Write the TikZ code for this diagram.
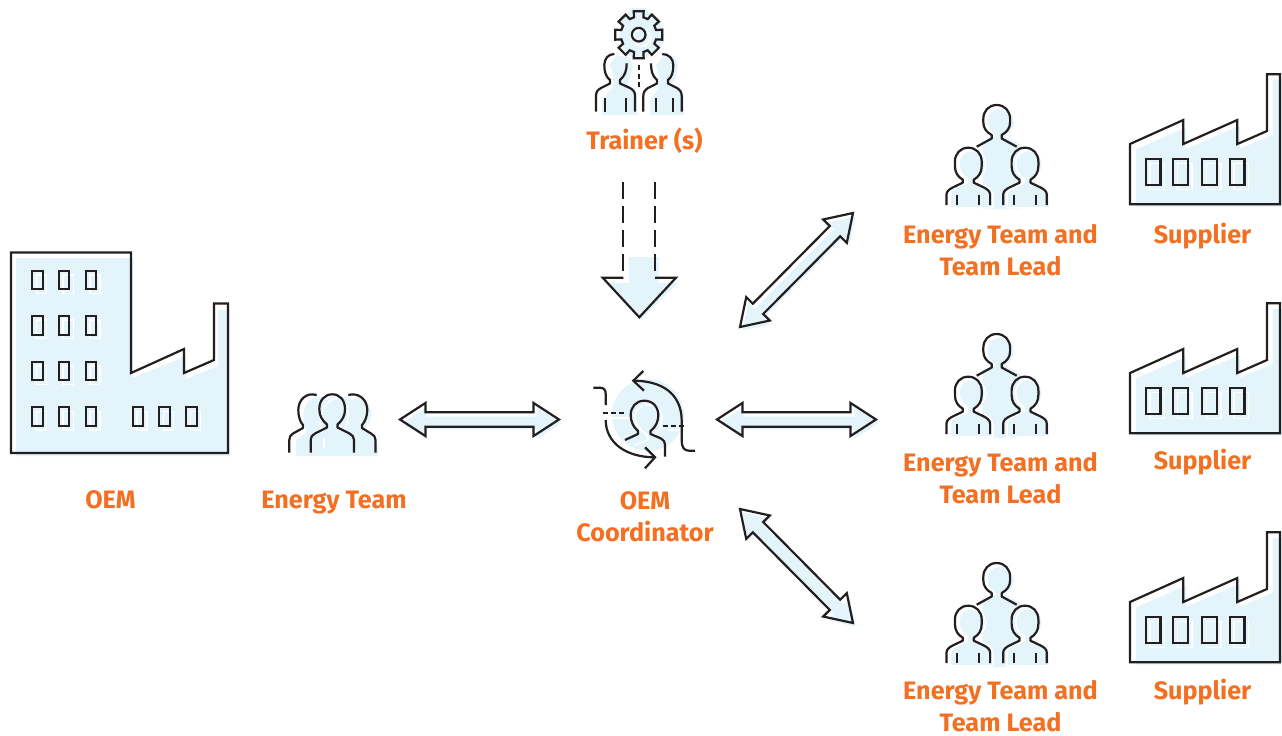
\documentclass[tikz,border=0pt]{standalone}
\usepackage{fontspec}
\setmainfont{Fira Sans}
\usetikzlibrary{shapes.arrows,calc}
\definecolor{ink}{HTML}{231F20}
\definecolor{tint}{HTML}{E3F4FA}
\definecolor{accent}{HTML}{F36F21}
\tikzset{
  x=1pt,y=-1pt,
  outl/.style={draw=ink,line width=2.2pt,line join=miter},
  iconl/.style={draw=ink,line width=2.2pt,line cap=butt,line join=round},
  tintf/.style={fill=tint,draw=none},
  halo/.style={draw=white,line width=1.6pt},
  lab/.style={font=\fontsize{25.2}{32}\selectfont\bfseries,text=accent,align=center,inner sep=0pt},
  blockarr/.style={shape=double arrow,inner xsep=0pt,inner ysep=6.2pt,outer sep=0pt,minimum width=31pt,
     double arrow head extend=9.3pt,double arrow tip angle=66},
  pics/winrect/.style args={#1/#2}{code={
     \draw[halo] (4,4) rectangle ++(#1,#2);
     \draw[outl] (0,0) rectangle ++(#1,#2);}},
  pics/persontint/.style={code={
     \path[tintf,draw=white,line width=1.6pt] (-18,58) -- (-18,47) .. controls (-18,43) and (-14,41) .. (-10,39) -- (-1,35) -- (-1,31)
       .. controls (-7,27) and (-9.3,22) .. (-9.3,16) .. controls (-9.3,7) and (-3,3) .. (4,3)
       .. controls (11,3) and (17.3,8) .. (17.3,17) .. controls (17.3,23) and (14,28) .. (8.5,31) -- (8.5,35) -- (18,39)
       .. controls (22,41) and (24.6,44) .. (24.6,48) -- (24.6,60) -- (-18,60) -- cycle;}},
  pics/personline/.style={code={
     \draw[iconl] (-21.8,57.5) -- (-21.8,47) .. controls (-21.8,43.5) and (-19,41.5) .. (-15,39.5) -- (-5.5,35) -- (-5.5,32)
       .. controls (-10.5,29) and (-13.4,25) .. (-13.4,18) -- (-13.4,14) .. controls (-13.4,6) and (-8,0) .. (0,0)
       .. controls (8,0) and (13.4,6) .. (13.4,14) -- (13.4,18) .. controls (13.4,25) and (10.5,29) .. (5.5,32) -- (5.5,35) -- (15,39.5)
       .. controls (19,41.5) and (21.8,43.5) .. (21.8,47) -- (21.8,57.5);
     \draw[iconl] (-11,47.5) -- (-11,57.5) (11,47.5) -- (11,57.5);}},
  pics/teamicon/.style={code={
     \path[tintf] (-14,48) -- (-14,36) -- (-1,32) -- (-1,30) .. controls (-7,26) and (-9,21) .. (-9,17) .. controls (-9,8) and (-4,4) .. (4,4)
        .. controls (11,4) and (17,9) .. (17,18) .. controls (17,24) and (13,28) .. (9,30) -- (9,32) -- (24,40) -- (24,104) -- (-14,104) -- cycle;
     \pic at (-28.4,42.7) {persontint};
     \pic at (28.3,42.7) {persontint};
     \draw[iconl] (-20,41.7) -- (-5,33.5) -- (-5,30) .. controls (-10.5,27) and (-13.4,23) .. (-13.4,17) -- (-13.4,14) .. controls (-13.4,6) and (-8,0) .. (0,0)
        .. controls (8,0) and (13.4,6) .. (13.4,14) -- (13.4,17) .. controls (13.4,23) and (10.5,27) .. (5,30) -- (5,33.5) -- (20,41.7);
     \pic at (-28.4,42.7) {personline};
     \pic at (28.3,42.7) {personline};
  }},
  pics/plant/.style={code={
     \path[tintf] (6,75.2) -- (56,53.2) -- (56,74.7) -- (107,52.7) -- (110,52.7) -- (110,74.2) -- (142.7,60.7) -- (142.7,5.7) -- (152,5.7) -- (152,132.4) -- (6,132.4) -- cycle;
     \draw[outl] (0,69.7) -- (53.3,45.7) -- (53.3,69.7) -- (107.3,45.7) -- (107.3,69.7) -- (137,56.7) -- (137,0) -- (150,0) -- (150,130) -- (0,130) -- cycle;
     \foreach \wx in {16,43.3,72.3,100}{ \pic at (\wx,85) {winrect=14.5/26}; }
  }},
}
\begin{document}
\begin{tikzpicture}
\useasboundingbox (0,0) rectangle (1282,736);
%% OEM building
\path[tintf] (16,258) -- (133,258) -- (133,378) -- (186,356) -- (186,379) -- (218,366) -- (218,310) -- (230,310) -- (230,456) -- (16,456) -- cycle;
\draw[outl] (11,252.5) -- (131,252.5) -- (131,373) -- (184,349) -- (184,373) -- (214,360) -- (214,303.5) -- (228,303.5) -- (228,453) -- (11,453) -- cycle;
\foreach \wy in {270.7,316,361.7,407.3}\foreach \wx in {32.3,59,85.7}{ \pic at (\wx,\wy) {winrect=10.3/18.6}; }
\foreach \wx in {132.7,159.3,186.3}{ \pic at (\wx,407.3) {winrect=10.3/18.6}; }
\node[lab] (oemlab) at (110.5,500) {OEM};
%% energy team
\path[tintf] (296,456) -- (296,440) -- (306,433) -- (306,428) .. controls (303,420) and (302,410) .. (308,402) .. controls (315,396) and (322,396) .. (326,400)
   .. controls (335,394) and (345,396) .. (352,400) .. controls (362,394) and (372,404) .. (371,415) .. controls (371,420) and (368,426) .. (364,429) -- (372,438) -- (378,445) -- (378,456) -- cycle;
\draw[halo] (324,448) -- (324,438) (323,432) .. controls (316,424) and (323,399) .. (337,398) .. controls (348,398) and (352,420) .. (344,429);
\draw[iconl] (316.7,395) .. controls (306,392) and (298.3,400) .. (298.3,410) .. controls (298.3,416) and (300,422) .. (303,425) -- (303,428) -- (293,433.5) .. controls (290.5,435) and (289.3,437) .. (289.3,440) -- (289.3,452.7);
\draw[iconl] (348.3,395) .. controls (359,392) and (367.3,400) .. (367.3,410) .. controls (367.3,416) and (365,422) .. (362,425) -- (362,428) -- (371,433.5) .. controls (374,435) and (375.5,437) .. (375.5,440) -- (375.5,452.7);
\draw[iconl] (310.7,452.7) -- (310.7,440) .. controls (310.7,437) and (312,435) .. (315,433.5) -- (327,427.5) -- (327,424.5) .. controls (322,420) and (319.3,416) .. (319.3,409) .. controls (319.3,400) and (325,394.3) .. (332.3,394.3)
   .. controls (339.6,394.3) and (345,400) .. (345,409) .. controls (345,416) and (342.5,420) .. (337.5,424.5) -- (337.5,427.5) -- (349.5,433.5) .. controls (352.5,435) and (354,437) .. (354,440) -- (354,452.7);
\node[lab] (teamlab) at (334,503) {Energy Team};
%% trainer
\path[tintf] (632,8) -- (645,8) -- (650,13) -- (659,18) -- (664,30) -- (664,42) -- (658,50) -- (645,58) -- (632,57) -- (622,50) -- (619,36) -- (622,20) -- cycle;
\path[tintf] (602,115) -- (602,100) -- (613,87) -- (613,75) -- (610,64) -- (617,55) -- (630,58) -- (633,67) -- (630,78) -- (627,85) -- (637,93) -- (637,115) -- cycle;
\path[tintf] (650,115) -- (650,100) -- (657,90) -- (660,80) -- (656,66) -- (662,57) -- (674,56) -- (678,64) -- (676,78) -- (672,84) -- (684,95) -- (684,115) -- cycle;
\draw[draw=white,line width=2pt,fill=none] (638.7,34.7) ++(3,3) circle (8.5);
\draw[iconl] (638.7,34.7) circle (6.8);
\draw[iconl,line join=miter] \foreach \g [evaluate=\g as \a using \g*45] in {0,...,7}{
  \ifnum\g=0 ($(638.7,34.7)+(\a-15:18)$) \else -- ($(638.7,34.7)+(\a-15:18)$) \fi
  -- ($(638.7,34.7)+(\a-12:24)$) -- ($(638.7,34.7)+(\a+12:24)$) -- ($(638.7,34.7)+(\a+15:18)$)
} -- cycle;
\draw[iconl,dash pattern=on 5pt off 3.5pt] (638.7,65) -- (638.7,87);
\draw[iconl] (614.3,54) .. controls (608,54) and (604.3,59) .. (604.3,65) .. controls (604.3,72) and (606,77) .. (610,80) -- (610,83.5) -- (601,88) .. controls (597.5,90) and (596,92) .. (596,96) -- (596,111.7);
\draw[iconl] (626.7,63.3) .. controls (626.7,70) and (625,76) .. (620,80) -- (620,83.5) -- (630,88) .. controls (633.5,90) and (635,92) .. (635,96) -- (635,111.7);
\draw[iconl] (605,98.3) -- (605,111.7) (626,98.3) -- (626,111.7);
\draw[iconl] (662.3,54) .. controls (669,54) and (673.3,59) .. (673.3,65) .. controls (673.3,72) and (672,77) .. (668,80) -- (668,83.5) -- (677,88) .. controls (680,90) and (681.7,92) .. (681.7,96) -- (681.7,111.7);
\draw[iconl] (651,63.3) .. controls (651,70) and (652,76) .. (657,80) -- (657,83.5) -- (648,88) .. controls (645,90) and (643.3,92) .. (643.3,96) -- (643.3,111.7);
\draw[iconl] (656,98.3) -- (656,111.7) (672.7,98.3) -- (672.7,111.7);
\node[lab] (trainerlab) at (644.5,141) {Trainer (s)};
%% down arrow
\path[tintf] (629,257) -- (658.5,257) -- (658.5,283) -- (677.5,283) -- (641,320) -- (609,283) -- (629,283) -- cycle;
\draw[iconl,line cap=butt,dash pattern=on 17.5pt off 6.5pt] (623.3,181.7) -- (623.3,277.7);
\draw[iconl,line cap=butt,dash pattern=on 17.5pt off 6.5pt] (655,181.7) -- (655,277.7);
\draw[outl] (623.3,277.7) -- (602.7,277.7) -- (639.3,317.3) -- (676,277.7) -- (655,277.7);
%% coordinator
\fill[tint] (648,415) circle (36);
\draw[draw=white,line width=1.6pt] (635,445) -- (648,440) -- (648,436) .. controls (640,430) and (635,424) .. (635,417) .. controls (635,410) and (640,405) .. (648,405) .. controls (656,405) and (662,410) .. (662,417) .. controls (662,425) and (659,431) .. (654,436);
\draw[draw=white,line width=1.6pt] (611,418) -- (632,418) (668,430) -- (690,430);
\draw[iconl] (625,440) -- (638,434) -- (638,431) .. controls (633,427) and (630.7,421) .. (630.7,415) .. controls (630.7,407) and (636,400.7) .. (644.3,400.7)
   .. controls (652.7,400.7) and (658.3,407) .. (658.3,415) .. controls (658.3,421) and (656,427) .. (650.5,431) -- (650.5,434) -- (661,438.5) .. controls (664,440) and (665,442) .. (665,445) -- (665,456.7);
\draw[iconl] (633.3,380.7) .. controls (661,380.7) and (681.7,393) .. (681.7,421) -- (681.7,441) .. controls (681.7,447) and (684,450.7) .. (689,450.7) -- (695,450.7);
\draw[iconl,line join=miter] (643.3,371) -- (633.3,380.7) -- (644,390.7);
\draw[iconl] (593.3,387.7) -- (600,387.7) .. controls (604,387.7) and (605.7,390) .. (605.7,394) -- (605.7,405);
\draw[iconl] (605.7,420) .. controls (605.7,442) and (625,457.3) .. (655,457.3);
\draw[iconl,line join=miter] (645,447.3) -- (655,457.3) -- (645,468.3);
\draw[iconl,dash pattern=on 5pt off 3pt] (603.3,413.3) -- (625,413.3);
\draw[iconl,dash pattern=on 5pt off 3pt] (663.3,425.7) -- (685,425.7);
\node[lab] (coordlab) at (645,517) {OEM\\Coordinator};
%% supplier rows
\foreach \ro/\sy/\ly in {0/236/234,229/462/462,458/692/690}{
  \pic at (996.7,105+\ro) {teamicon};
  \pic at (1130,74.3+\ro) {plant};
  \node[lab] at (1000.5,\ly+16) {Energy Team and\\Team Lead};
  \node[lab] at (1202.5,\sy) {Supplier};
}
%% block arrows
\coordinate (ca) at (400,419.5); \coordinate (cb) at (559,419.5);
\coordinate (da) at (717,419.5); \coordinate (db) at (876,419.5);
\coordinate (ea) at (740,327); \coordinate (eb) at (853,213);
\coordinate (fa) at (740,509); \coordinate (fb) at (853,623);
\foreach \pa/\pb in {ca/cb,da/db,ea/eb,fa/fb}{
  \path let \p1=(\pa),\p2=(\pb),\n1={atan2(\y2-\y1,\x2-\x1)},\n2={veclen(\x2-\x1,\y2-\y1)} in
    node[blockarr,fill=tint,rotate=\n1,minimum height=\n2] at ($($(\pa)!.5!(\pb)$)+(2.5,3.5)$) {}
    node[blockarr,draw=ink,line width=2.2pt,rotate=\n1,minimum height=\n2] (n\pa) at ($(\pa)!.5!(\pb)$) {};
}
\end{tikzpicture}
\end{document}
